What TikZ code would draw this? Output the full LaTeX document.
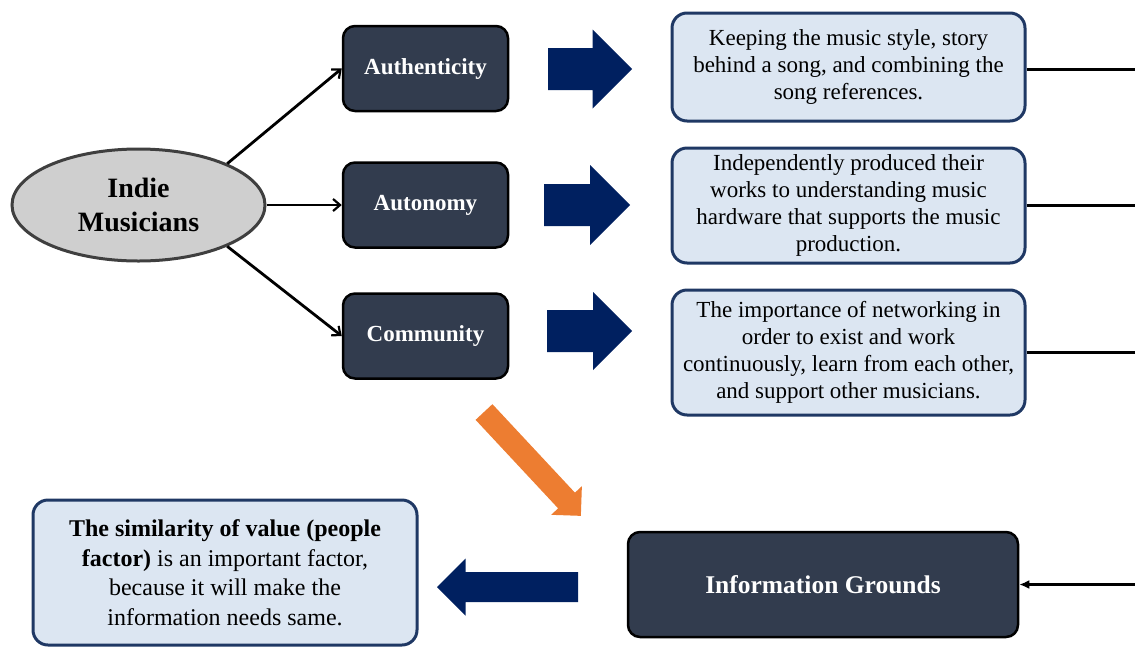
\documentclass[tikz,border=0pt]{standalone}
\usepackage{fontspec}
\setmainfont{Liberation Serif}
\usetikzlibrary{shapes.geometric,arrows.meta}

\definecolor{slatefill}{HTML}{323C4E}
\definecolor{palefill}{HTML}{DCE6F2}
\definecolor{paleedge}{HTML}{1F3864}
\definecolor{navyarrow}{HTML}{002060}
\definecolor{orangearrow}{HTML}{ED7D31}
\definecolor{ovalfill}{HTML}{CFCFCF}
\definecolor{ovaledge}{HTML}{3F3F3F}

% block arrow: colour, tail x, tail y, angle, length, shaft half-width, head half-width
% (head length equals head half-width, i.e. a right-angled tip)
\newcommand\blockarrow[7]{%
  \fill[#1, shift={(#2,#3)}, rotate=#4]
    (0,-#6) -- ({#5-#7},-#6) -- ({#5-#7},-#7) -- (#5,0)
    -- ({#5-#7},#7) -- ({#5-#7},#6) -- (0,#6) -- cycle;}

\tikzset{
  themebox/.style={draw=black, line width=2.5pt, fill=slatefill, rounded corners=12pt,
    text=white, font=\fontsize{23}{27}\selectfont\bfseries, align=center,
    minimum width=165pt, minimum height=85pt, inner sep=2pt},
  notebox/.style={draw=paleedge, line width=3pt, fill=palefill, rounded corners=15pt,
    text=black, font=\fontsize{23}{27}\selectfont, align=center,
    minimum width=353pt, inner sep=2pt},
  conn/.style={line width=2.8pt, -{Straight Barb[length=7pt,width=12pt,line width=2.2pt]}},
  feed/.style={line width=2.8pt, -{Latex[length=10pt,width=9pt]}},
  plain/.style={line width=3pt},
}

\begin{document}
\begin{tikzpicture}[x=1pt,y=-1pt]
\useasboundingbox (0,0) rectangle (1135,646);

% central ellipse
\node[ellipse, draw=ovaledge, line width=3pt, fill=ovalfill, minimum width=253pt,
  minimum height=112pt, inner sep=0pt, align=center,
  font=\fontsize{28}{34}\selectfont\bfseries] (musicians) at (138.5,205)
  {Indie\\Musicians};

% the three themes
\node[themebox] (auth) at (425.5,68.5) {Authenticity};
\node[themebox] (auto) at (425.5,205) {Autonomy};
\node[themebox] (comm) at (425.5,336) {Community};

\draw[conn] (musicians.25) -- (auth.west);
\draw[conn] (musicians.east) -- (auto.west);
\draw[conn] (musicians.-25) -- (comm.west);

% explanation boxes
\node[notebox, minimum height=108pt] (note1) at (848.5,67)
  {Keeping the music style, story\\behind a song, and combining the\\song references.};
\node[notebox, minimum height=115pt] (note2) at (848.5,205.5)
  {Independently produced their\\works to understanding music\\hardware that supports the music\\production.};
\node[notebox, minimum height=125pt] (note3) at (848.5,352.5)
  {The importance of networking in\\order to exist and work\\continuously, learn from each other,\\and support other musicians.};

% information grounds and conclusion
\node[themebox, minimum width=390pt, minimum height=105pt,
  font=\fontsize{25.5}{30}\selectfont\bfseries] (ground) at (823,584.5) {Information Grounds};
\node[notebox, minimum width=384pt, minimum height=145pt,
  font=\fontsize{24}{29.5}\selectfont] (value) at (225,572.5)
  {\textbf{The similarity of value (people}\\\textbf{factor)} is an important factor,\\because it will make the\\information needs same.};

% right-hand rail
\coordinate (rail) at (1135,0);
\draw[plain] (note1.east |- 0,69) -- (rail |- 0,69);
\draw[plain] (note2.east) -- (note2.east -| rail);
\draw[plain] (note3.east) -- (note3.east -| rail);
\draw[feed] (rail |- ground.east) -- (ground.east);

% block arrows
\blockarrow{navyarrow}{548}{69}{0}{84}{21}{39.5}
\blockarrow{navyarrow}{544}{205}{0}{86}{21}{40}
\blockarrow{navyarrow}{547}{331}{0}{85}{21}{39}
\blockarrow{navyarrow}{578}{587}{180}{141}{15}{28.5}
\blockarrow{orangearrow}{484}{412}{-47}{142}{11.5}{21}
\end{tikzpicture}
\end{document}
